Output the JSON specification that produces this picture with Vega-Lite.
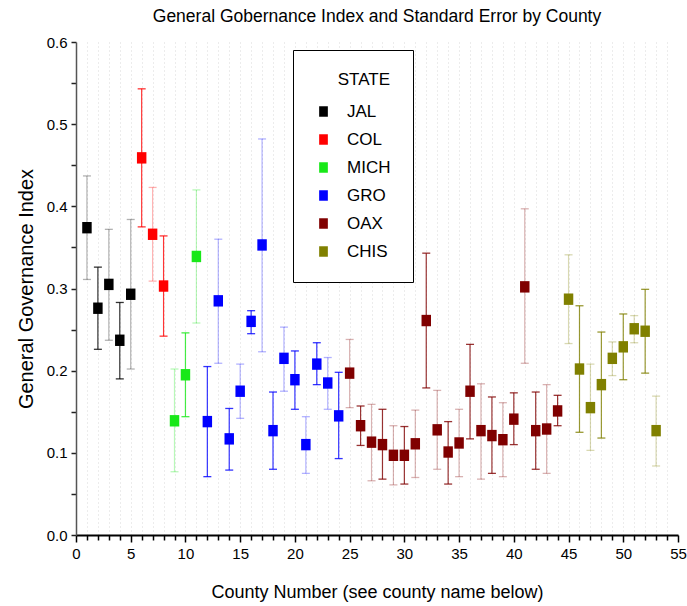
{
  "$schema": "https://vega.github.io/schema/vega-lite/v6.json",
  "width": 602,
  "height": 493,
  "autosize": {"type": "none"},
  "padding": {"left": 76, "top": 42, "right": 9, "bottom": 71},
  "background": "white",
  "config": {
    "view": {"stroke": null},
    "font": "Liberation Sans, Arial, sans-serif",
    "axis": {"labelFont": "Liberation Sans, sans-serif", "titleFont": "Liberation Sans, sans-serif", "titleFontWeight": "normal", "labelColor": "#000", "titleColor": "#000", "domainColor": "#333", "tickColor": "#333"}
  },
  "title": {"text": "General Gobernance Index and Standard Error by County", "fontSize": 17.5, "fontWeight": "normal", "font": "Liberation Sans, sans-serif", "anchor": "middle", "offset": 10, "color": "#000"},
  "data": {"values": [
    {"county": 1, "state": "JAL", "gi": 0.374, "lo": 0.311, "hi": 0.437},
    {"county": 2, "state": "JAL", "gi": 0.276, "lo": 0.226, "hi": 0.326},
    {"county": 3, "state": "JAL", "gi": 0.305, "lo": 0.237, "hi": 0.372},
    {"county": 4, "state": "JAL", "gi": 0.237, "lo": 0.190, "hi": 0.283},
    {"county": 5, "state": "JAL", "gi": 0.293, "lo": 0.202, "hi": 0.384},
    {"county": 6, "state": "COL", "gi": 0.459, "lo": 0.375, "hi": 0.543},
    {"county": 7, "state": "COL", "gi": 0.366, "lo": 0.309, "hi": 0.423},
    {"county": 8, "state": "COL", "gi": 0.303, "lo": 0.242, "hi": 0.364},
    {"county": 9, "state": "MICH", "gi": 0.139, "lo": 0.077, "hi": 0.202},
    {"county": 10, "state": "MICH", "gi": 0.195, "lo": 0.144, "hi": 0.246},
    {"county": 11, "state": "MICH", "gi": 0.339, "lo": 0.258, "hi": 0.420},
    {"county": 12, "state": "GRO", "gi": 0.138, "lo": 0.071, "hi": 0.205},
    {"county": 13, "state": "GRO", "gi": 0.285, "lo": 0.209, "hi": 0.360},
    {"county": 14, "state": "GRO", "gi": 0.117, "lo": 0.079, "hi": 0.154},
    {"county": 15, "state": "GRO", "gi": 0.175, "lo": 0.142, "hi": 0.208},
    {"county": 16, "state": "GRO", "gi": 0.260, "lo": 0.245, "hi": 0.273},
    {"county": 17, "state": "GRO", "gi": 0.353, "lo": 0.223, "hi": 0.482},
    {"county": 18, "state": "GRO", "gi": 0.127, "lo": 0.080, "hi": 0.174},
    {"county": 19, "state": "GRO", "gi": 0.215, "lo": 0.175, "hi": 0.253},
    {"county": 20, "state": "GRO", "gi": 0.189, "lo": 0.153, "hi": 0.224},
    {"county": 21, "state": "GRO", "gi": 0.110, "lo": 0.075, "hi": 0.144},
    {"county": 22, "state": "GRO", "gi": 0.208, "lo": 0.183, "hi": 0.234},
    {"county": 23, "state": "GRO", "gi": 0.185, "lo": 0.153, "hi": 0.216},
    {"county": 24, "state": "GRO", "gi": 0.145, "lo": 0.093, "hi": 0.198},
    {"county": 25, "state": "OAX", "gi": 0.197, "lo": 0.155, "hi": 0.238},
    {"county": 26, "state": "OAX", "gi": 0.133, "lo": 0.109, "hi": 0.157},
    {"county": 27, "state": "OAX", "gi": 0.113, "lo": 0.066, "hi": 0.159},
    {"county": 28, "state": "OAX", "gi": 0.110, "lo": 0.068, "hi": 0.153},
    {"county": 29, "state": "OAX", "gi": 0.097, "lo": 0.061, "hi": 0.133},
    {"county": 30, "state": "OAX", "gi": 0.097, "lo": 0.062, "hi": 0.132},
    {"county": 31, "state": "OAX", "gi": 0.111, "lo": 0.070, "hi": 0.152},
    {"county": 32, "state": "OAX", "gi": 0.261, "lo": 0.179, "hi": 0.343},
    {"county": 33, "state": "OAX", "gi": 0.128, "lo": 0.080, "hi": 0.176},
    {"county": 34, "state": "OAX", "gi": 0.101, "lo": 0.062, "hi": 0.138},
    {"county": 35, "state": "OAX", "gi": 0.112, "lo": 0.071, "hi": 0.153},
    {"county": 36, "state": "OAX", "gi": 0.175, "lo": 0.117, "hi": 0.232},
    {"county": 37, "state": "OAX", "gi": 0.127, "lo": 0.068, "hi": 0.184},
    {"county": 38, "state": "OAX", "gi": 0.121, "lo": 0.075, "hi": 0.168},
    {"county": 39, "state": "OAX", "gi": 0.116, "lo": 0.071, "hi": 0.161},
    {"county": 40, "state": "OAX", "gi": 0.141, "lo": 0.110, "hi": 0.173},
    {"county": 41, "state": "OAX", "gi": 0.302, "lo": 0.209, "hi": 0.397},
    {"county": 42, "state": "OAX", "gi": 0.127, "lo": 0.080, "hi": 0.174},
    {"county": 43, "state": "OAX", "gi": 0.129, "lo": 0.075, "hi": 0.183},
    {"county": 44, "state": "OAX", "gi": 0.151, "lo": 0.133, "hi": 0.170},
    {"county": 45, "state": "CHIS", "gi": 0.287, "lo": 0.233, "hi": 0.341},
    {"county": 46, "state": "CHIS", "gi": 0.202, "lo": 0.125, "hi": 0.279},
    {"county": 47, "state": "CHIS", "gi": 0.155, "lo": 0.103, "hi": 0.208},
    {"county": 48, "state": "CHIS", "gi": 0.183, "lo": 0.118, "hi": 0.247},
    {"county": 49, "state": "CHIS", "gi": 0.215, "lo": 0.194, "hi": 0.235},
    {"county": 50, "state": "CHIS", "gi": 0.229, "lo": 0.189, "hi": 0.269},
    {"county": 51, "state": "CHIS", "gi": 0.251, "lo": 0.234, "hi": 0.267},
    {"county": 52, "state": "CHIS", "gi": 0.248, "lo": 0.197, "hi": 0.299},
    {"county": 53, "state": "CHIS", "gi": 0.127, "lo": 0.084, "hi": 0.169}
  ]},
  "encoding": {
    "x": {"field": "county", "type": "quantitative",
      "scale": {"domain": [0, 55], "nice": false, "zero": false},
      "axis": {
        "title": "County Number (see county name below)",
        "titleFontSize": 18, "titlePadding": 22,
        "values": [0,1,2,3,4,5,6,7,8,9,10,11,12,13,14,15,16,17,18,19,20,21,22,23,24,25,26,27,28,29,30,31,32,33,34,35,36,37,38,39,40,41,42,43,44,45,46,47,48,49,50,51,52,53,54,55],
        "labelExpr": "datum.value % 5 === 0 ? datum.label : ''",
        "labelOverlap": false, "labelFlush": false,
        "labelFontSize": 15, "labelPadding": 4,
        "domainColor": "#000", "domainWidth": 2,
        "tickColor": "#000", "tickWidth": 1.5,
        "tickSize": {"condition": {"test": "datum.value % 5 === 0", "value": 7}, "value": 5},
        "grid": true,
        "gridColor": "#d8d8d8", "gridDash": [1, 3], "gridWidth": 1,
        "gridOpacity": {"condition": {"test": "datum.value > 0 && datum.value < 55", "value": 1}, "value": 0}
      }},
    "color": {"field": "state", "type": "nominal",
      "scale": {"domain": ["JAL", "COL", "MICH", "GRO", "OAX", "CHIS"], "range": ["#000000", "#ff0000", "#18e818", "#0000ff", "#800000", "#808000"]},
      "legend": {
        "title": "STATE", "orient": "none", "legendX": 217, "legendY": 8,
        "strokeColor": "#000", "fillColor": "white", "padding": 22,
        "titleFontSize": 17, "titleFontWeight": "normal", "titleColor": "#000", "titlePadding": 14,
        "titleAnchor": "end",
        "labelFontSize": 17, "labelColor": "#000", "labelOffset": 15,
        "symbolType": "M-0.83,-1H0.83V1H-0.83Z", "symbolSize": 110, "symbolStrokeWidth": 0,
        "symbolOpacity": 1,
        "rowPadding": 10,
        "encode": {"symbols": {"update": {"opacity": {"value": 1}, "fillOpacity": {"value": 1}, "strokeOpacity": {"value": 0}}}}
      }}
  },
  "layer": [
    {
      "mark": {"type": "rule", "strokeWidth": 1.2},
      "encoding": {
        "y": {"field": "lo", "type": "quantitative",
          "scale": {"domain": [0, 0.6], "nice": false},
          "axis": {
            "title": "General Governance Index",
            "titleFontSize": 20, "titlePadding": 10,
            "values": [0, 0.05, 0.1, 0.15, 0.2, 0.25, 0.3, 0.35, 0.4, 0.45, 0.5, 0.55, 0.6],
            "labelExpr": "round(datum.value * 100) % 10 === 0 ? format(datum.value, '.1f') : ''",
            "labelOverlap": false, "labelFlush": false,
            "labelFontSize": 15, "labelPadding": 4,
            "domainColor": "#555", "domainWidth": 1.5,
            "tickColor": "#222", "tickWidth": 1.5, "tickSize": 5,
            "grid": false
          }},
        "y2": {"field": "hi"},
        "opacity": {"condition": {"test": "datum.county % 2 === 1", "value": 0.3}, "value": 0.8}
      }
    },
    {
      "mark": {"type": "tick", "orient": "horizontal", "size": 8, "thickness": 1.3},
      "encoding": {
        "y": {"field": "lo", "type": "quantitative", "axis": {"title": "General Governance Index"}},
        "opacity": {"condition": {"test": "datum.county % 2 === 1", "value": 0.3}, "value": 0.8}
      }
    },
    {
      "mark": {"type": "tick", "orient": "horizontal", "size": 8, "thickness": 1.3},
      "encoding": {
        "y": {"field": "hi", "type": "quantitative", "axis": {"title": "General Governance Index"}},
        "opacity": {"condition": {"test": "datum.county % 2 === 1", "value": 0.3}, "value": 0.8}
      }
    },
    {
      "mark": {"type": "point", "filled": true, "opacity": 1, "shape": "M-0.83,-1H0.83V1H-0.83Z", "size": 130},
      "encoding": {
        "y": {"field": "gi", "type": "quantitative", "axis": {"title": "General Governance Index"}}
      }
    }
  ]
}
